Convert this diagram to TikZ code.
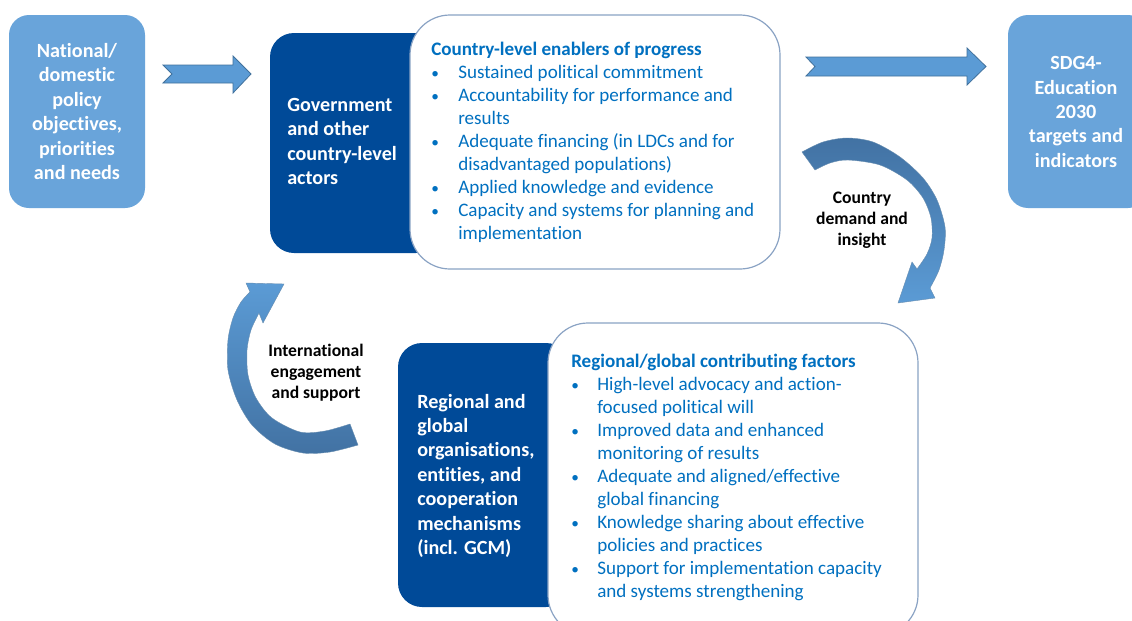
\documentclass[tikz,border=0pt]{standalone}
\usepackage{fontspec}
\setmainfont{Carlito}[Ligatures=NoCommon]
\definecolor{lightbox}{HTML}{69A4DA}
\definecolor{darkbox}{HTML}{004A98}
\definecolor{listblue}{HTML}{0070C0}
\definecolor{arrowfill}{HTML}{5B9BD5}
\definecolor{arrowline}{HTML}{41719C}
\definecolor{arrowdark}{HTML}{4272A3}
\definecolor{panelline}{HTML}{8AA3C4}
\newcommand{\smbul}{{\fontsize{11.5}{11.5}\selectfont\textbullet}}
\tikzset{
  lbox/.style={fill=lightbox, rounded corners=15pt, inner sep=0pt},
  dbox/.style={fill=darkbox, rounded corners=18pt, inner sep=0pt},
  panel/.style={fill=white, draw=panelline, line width=0.9pt, rounded corners=30pt, inner sep=0pt},
  boxtext/.style={text=white, font=\bfseries\fontsize{15.1}{18.3}\selectfont, inner sep=0pt},
  listtext/.style={text=listblue, font=\fontsize{14.3}{17.3}\selectfont, inner sep=0pt, anchor=base west},
  looplabel/.style={text=black, font=\bfseries\fontsize{13.2}{15.75}\selectfont, inner sep=0pt, align=center},
  blockarrow/.style={fill=arrowfill, draw=arrowline, line width=0.6pt, line join=miter},
}
\begin{document}
\begin{tikzpicture}[x=0.75pt,y=-0.75pt]
\useasboundingbox (0,0) rectangle (1132,621);
\fill[white] (0,0) rectangle (1132,621);

% left box
\node[lbox, minimum width=102pt, minimum height=144.75pt] (natl) at (77,111.5) {};
\node[boxtext, align=center] (natltext) at (natl.center) {National/\\domestic\\policy\\objectives,\\priorities\\and needs};

% right box
\node[lbox, minimum width=105pt, minimum height=144.75pt] (sdg) at (1078,111.5) {};
\node[boxtext, align=center] (sdgtext) at (1076,112) {SDG4-\\Education\\2030\\targets and\\indicators};

% government box and panel
\node[dbox, minimum width=127.5pt, minimum height=165pt] (gov) at (355,143) {};
\node[panel, minimum width=277.5pt, minimum height=190.5pt] (enablers) at (595,142) {};
\node[boxtext, anchor=base west] (govtext) at (287,111.5) {\begin{tabular}[t]{@{}l@{}}Government\\and other\\country-level\\actors\end{tabular}};
\node[listtext] (enablerstext) at (431,55) {\begin{tabular}[t]{@{}p{20.25pt}@{}l@{}}
\multicolumn{2}{@{}l@{}}{\bfseries Country-level enablers of progress}\\
\smbul & Sustained political commitment\\
\smbul & Accountability for performance and\\
 & results\\
\smbul & Adequate financing (in LDCs and for\\
 & disadvantaged populations)\\
\smbul & Applied knowledge and evidence\\
\smbul & Capacity and systems for planning and\\
 & implementation
\end{tabular}};

% regional box and panel
\node[dbox, minimum width=129pt, minimum height=198pt] (reg) at (484,475) {};
\node[panel, minimum width=277.5pt, minimum height=234pt] (factors) at (733,479) {};
\node[boxtext, anchor=base west] (regtext) at (417,408) {\begin{tabular}[t]{@{}l@{}}Regional and\\global\\organisations,\\entities, and\\cooperation\\mechanisms\\(incl. GCM)\end{tabular}};
\node[listtext] (factorstext) at (571,367) {\begin{tabular}[t]{@{}p{19.5pt}@{}l@{}}
\multicolumn{2}{@{}l@{}}{\bfseries Regional/global contributing factors}\\
\smbul & High-level advocacy and action-\\
 & focused political will\\
\smbul & Improved data and enhanced\\
 & monitoring of results\\
\smbul & Adequate and aligned/effective\\
 & global financing\\
\smbul & Knowledge sharing about effective\\
 & policies and practices\\
\smbul & Support for implementation capacity\\
 & and systems strengthening
\end{tabular}};

% straight block arrows
\path[blockarrow] (163,65) -- (172,74) -- (163,83) -- (233,83) -- (233,93) -- (251,74) -- (233,56) -- (233,65) -- cycle;
\path[blockarrow] (806,57) -- (815,66.5) -- (806,76) -- (967,76) -- (967,85) -- (986,66.5) -- (967,48) -- (967,57) -- cycle;

% curved arrow: country demand
\shade[top color=arrowdark, bottom color=arrowfill, draw=arrowline!80, line width=0.3pt]
  plot[smooth] coordinates {(802,152) (823,142) (847,138) (873,142) (900,157) (923,178) (937,200) (945,227) (944,250) (939,270) (930,288)}
  -- (935,298) -- (898,303) -- (912,262) -- (917,269)
  -- plot[smooth] coordinates {(917,269) (927,254) (932,238) (931,218) (923,198) (907,180) (880,165) (848,160) (830,163) (815,170)}
  -- cycle;
\node[looplabel] (demand) at (862,220) {Country\\demand and\\insight};

% curved arrow: international engagement
\shade[top color=arrowfill, bottom color=arrowdark, draw=arrowline!80, line width=0.3pt]
  plot[smooth] coordinates {(358,445) (330,452) (303,453) (275,444) (252,425) (237,400) (228,370) (228,340) (233,318) (241,302) (250,292)}
  -- (246,283) -- (284,284) -- (263,323) -- (259,313)
  -- plot[smooth] coordinates {(259,313) (251,330) (247,350) (248,375) (256,398) (272,418) (300,432) (325,431) (350,424)}
  -- cycle;
\node[looplabel] (intl) at (316,373) {International\\engagement\\and support};
\end{tikzpicture}
\end{document}
